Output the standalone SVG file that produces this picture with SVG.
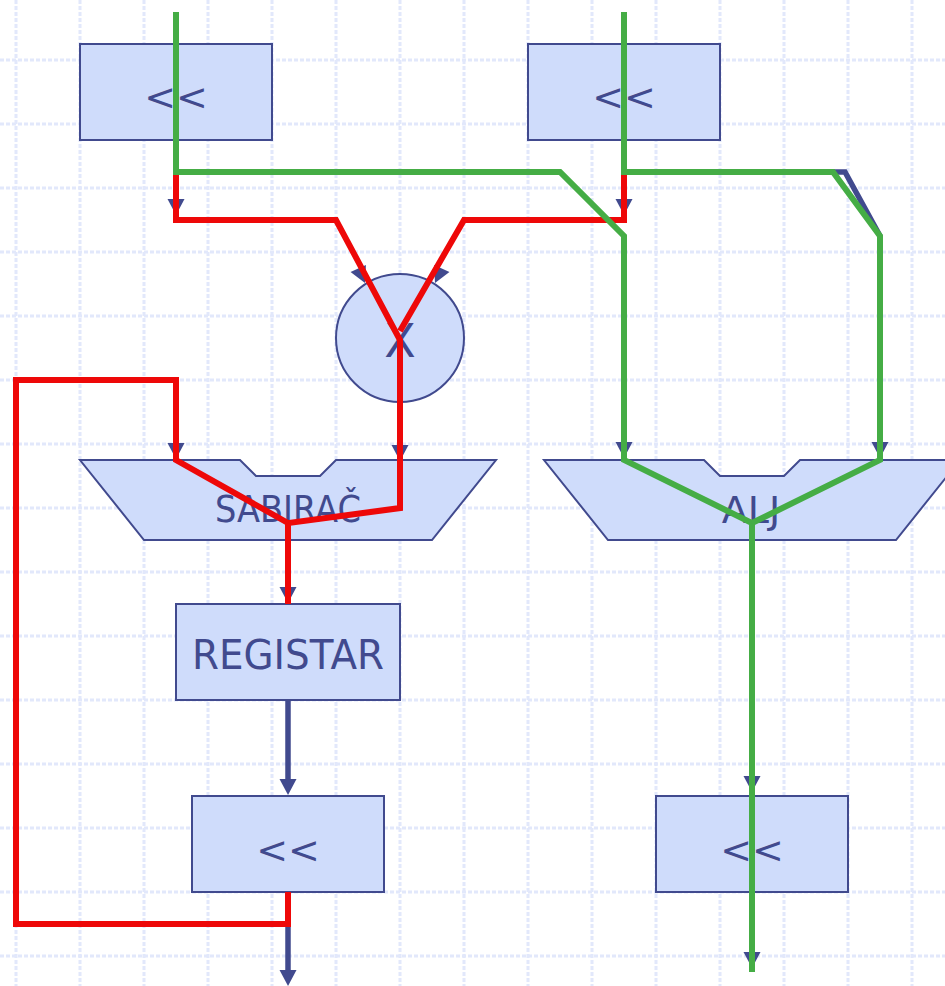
<svg xmlns="http://www.w3.org/2000/svg" xmlns:xlink="http://www.w3.org/1999/xlink" width="945" height="986" viewBox="0 0 945 986">
  <defs>
    <style>
      .grid line { stroke: #e2e8fb; stroke-width: 3; stroke-dasharray: 4 2; }
      .box { fill: #cfdcfb; stroke: #414a8e; stroke-width: 2; }
      .lbl { font-family: "DejaVu Sans", "Liberation Sans", sans-serif; fill: #414a8e; text-anchor: middle; }
      .wire { fill: none; stroke: #414a8e; stroke-width: 5.5; }
      .ah { fill: #414a8e; }
      .red { fill: none; stroke: #ee0808; stroke-width: 6; stroke-linejoin: miter; }
      .green { fill: none; stroke: #45ad45; stroke-width: 6; stroke-linejoin: miter; }
    </style>
    <!-- arrowhead, tip at origin, pointing down -->
    <path id="ah" d="M0,0 L-8.5,-16 L8.5,-16 Z"/>
  </defs>

  <rect width="945" height="986" fill="#ffffff"/>

  <!-- background grid, 64px pitch -->
  <g class="grid">
    <line x1="0" y1="60" x2="945" y2="60"/>
    <line x1="0" y1="124" x2="945" y2="124"/>
    <line x1="0" y1="188" x2="945" y2="188"/>
    <line x1="0" y1="252" x2="945" y2="252"/>
    <line x1="0" y1="316" x2="945" y2="316"/>
    <line x1="0" y1="380" x2="945" y2="380"/>
    <line x1="0" y1="444" x2="945" y2="444"/>
    <line x1="0" y1="508" x2="945" y2="508"/>
    <line x1="0" y1="572" x2="945" y2="572"/>
    <line x1="0" y1="636" x2="945" y2="636"/>
    <line x1="0" y1="700" x2="945" y2="700"/>
    <line x1="0" y1="764" x2="945" y2="764"/>
    <line x1="0" y1="828" x2="945" y2="828"/>
    <line x1="0" y1="892" x2="945" y2="892"/>
    <line x1="0" y1="956" x2="945" y2="956"/>
    <line x1="16" y1="0" x2="16" y2="986"/>
    <line x1="80" y1="0" x2="80" y2="986"/>
    <line x1="144" y1="0" x2="144" y2="986"/>
    <line x1="208" y1="0" x2="208" y2="986"/>
    <line x1="272" y1="0" x2="272" y2="986"/>
    <line x1="336" y1="0" x2="336" y2="986"/>
    <line x1="400" y1="0" x2="400" y2="986"/>
    <line x1="464" y1="0" x2="464" y2="986"/>
    <line x1="528" y1="0" x2="528" y2="986"/>
    <line x1="592" y1="0" x2="592" y2="986"/>
    <line x1="656" y1="0" x2="656" y2="986"/>
    <line x1="720" y1="0" x2="720" y2="986"/>
    <line x1="784" y1="0" x2="784" y2="986"/>
    <line x1="848" y1="0" x2="848" y2="986"/>
    <line x1="912" y1="0" x2="912" y2="986"/>
  </g>

  <!-- nodes -->
  <g id="shift-a">
    <rect class="box" x="80" y="44" width="192" height="96"/>
    <text class="lbl" x="176" y="110" font-size="38">&lt;&lt;</text>
  </g>
  <g id="shift-b">
    <rect class="box" x="528" y="44" width="192" height="96"/>
    <text class="lbl" x="624" y="110" font-size="38">&lt;&lt;</text>
  </g>
  <g id="multiplier">
    <circle class="box" cx="400" cy="338" r="64"/>
    <text class="lbl" x="400" y="357" font-size="46">X</text>
  </g>
  <g id="adder">
    <polygon class="box" points="80,460 240,460 256,476 320,476 336,460 496,460 432,540 144,540"/>
    <text class="lbl" x="288" y="522" font-size="37" textLength="146" lengthAdjust="spacingAndGlyphs">SABIRAČ</text>
  </g>
  <g id="alu">
    <polygon class="box" points="544,460 704,460 720,476 784,476 800,460 960,460 896,540 608,540"/>
    <text class="lbl" x="751" y="523" font-size="38">ALJ</text>
  </g>
  <g id="register">
    <rect class="box" x="176" y="604" width="224" height="96"/>
    <text class="lbl" x="288" y="669" font-size="41" textLength="192" lengthAdjust="spacingAndGlyphs">REGISTAR</text>
  </g>
  <g id="shift-c">
    <rect class="box" x="192" y="796" width="192" height="96"/>
    <text class="lbl" x="288" y="863" font-size="38">&lt;&lt;</text>
  </g>
  <g id="shift-d">
    <rect class="box" x="656" y="796" width="192" height="96"/>
    <text class="lbl" x="752" y="863" font-size="38">&lt;&lt;</text>
  </g>

  <!-- connectors -->
  <g id="connectors">
    <path class="wire" d="M288,700 V782"/>
    <path class="wire" d="M288,892 V972"/>
    <path class="wire" d="M624,172 H845 L880,236 V446"/>

    <use href="#ah" class="ah" transform="translate(176,215)"/>
    <use href="#ah" class="ah" transform="translate(624,215)"/>
    <use href="#ah" class="ah" transform="translate(365,283) rotate(-25)"/>
    <use href="#ah" class="ah" transform="translate(435,283) rotate(25)"/>
    <use href="#ah" class="ah" transform="translate(176,459)"/>
    <use href="#ah" class="ah" transform="translate(400,461)"/>
    <use href="#ah" class="ah" transform="translate(288,603)"/>
    <use href="#ah" class="ah" transform="translate(624,458)"/>
    <use href="#ah" class="ah" transform="translate(880,458)"/>
    <use href="#ah" class="ah" transform="translate(288,795)"/>
    <use href="#ah" class="ah" transform="translate(752,792)"/>
    <use href="#ah" class="ah" transform="translate(288,986)"/>
    <use href="#ah" class="ah" transform="translate(752,968)"/>

    <!-- multiply/accumulate path -->
    <path class="red" d="M176,172 V220 H336 L400,340 V508 L288,523 V604"/>
    <path class="red" d="M624,172 V220 H464 L400,331"/>
    <path class="red" d="M288,892 V924 H16 V380 H176 V460 L288,523"/>

    <!-- ALU path -->
    <path class="green" d="M176,12 V172 H560 L624,236 V460 L752,523 V972"/>
    <path class="green" d="M624,12 V172 H833 L880,236 V460 L752,523"/>
  </g>
</svg>
